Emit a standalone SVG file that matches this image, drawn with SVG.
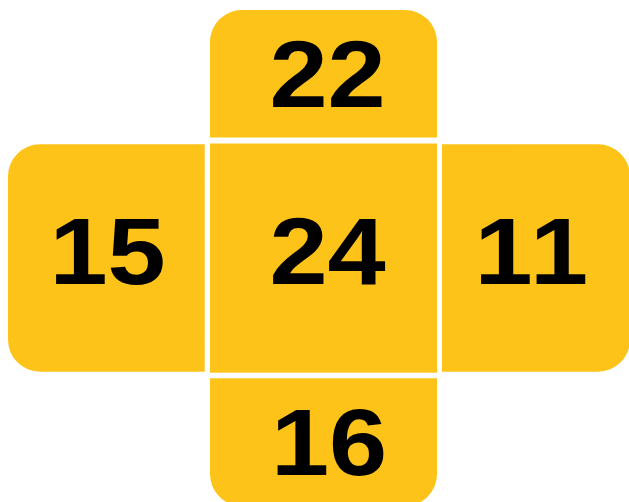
<svg xmlns="http://www.w3.org/2000/svg" width="629" height="502" viewBox="0 0 629 502">
<style>
.tile{fill:#FEC318}
.num{font-family:"Liberation Sans",Arial,sans-serif;font-weight:bold;font-size:95px;fill:#000;text-anchor:middle}
</style>
<rect width="629" height="502" fill="#fff"/>
<g id="top"><path class="tile" d="M210,137.5 V42 A32,32 0 0 1 242,10 H405 A32,32 0 0 1 437,42 V137.5 Z"/><text class="num" x="0" y="107" transform="translate(327.5,0) scale(1.1,1)">22</text></g>
<g id="left"><path class="tile" d="M204.7,144.3 V371.7 H40 A32,32 0 0 1 8,339.7 V176.3 A32,32 0 0 1 40,144.3 Z"/><text class="num" x="0" y="284" transform="translate(107.5,0) scale(1.1,1)">15</text></g>
<g id="center"><rect class="tile" x="210" y="143.5" width="227" height="229.2"/><text class="num" x="0" y="284" transform="translate(327.5,0) scale(1.1,1)">24</text></g>
<g id="right"><path class="tile" d="M442,144.3 H598 A32,32 0 0 1 630,176.3 V339.7 A32,32 0 0 1 598,371.7 H442 Z"/><text class="num" x="0" y="284" transform="translate(533,0) scale(1.1,1)" letter-spacing="3">11</text></g>
<g id="bottom"><path class="tile" d="M210,378.3 H437 V474 A32,32 0 0 1 405,506 H242 A32,32 0 0 1 210,474 Z"/><text class="num" x="0" y="475" transform="translate(329,0) scale(1.1,1)">16</text></g>
<g id="connectors"/>
</svg>
